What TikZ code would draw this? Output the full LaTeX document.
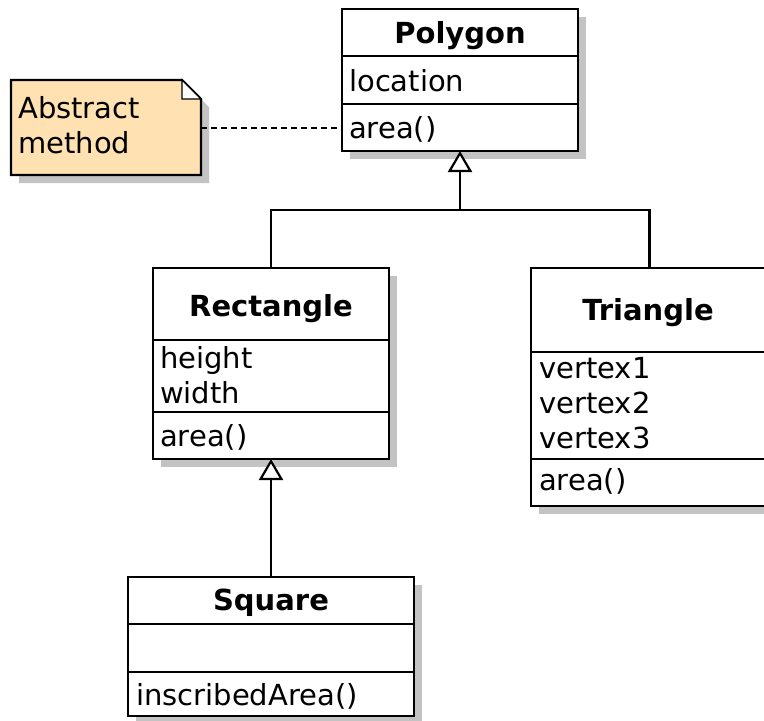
\documentclass[tikz,border=0pt]{standalone}
\usepackage{fontspec}
\setmainfont{DejaVu Sans}
\usetikzlibrary{arrows.meta,shadows}
\definecolor{notefill}{RGB}{255,225,178}
\definecolor{shadowgray}{RGB}{195,195,195}
\begin{document}
\begin{tikzpicture}[x=1pt,y=-1pt,
  box/.style={draw, line width=2.2pt, fill=white, inner sep=0pt, outer sep=0pt, anchor=north west,
    drop shadow={shadow xshift=8pt, shadow yshift=-8pt, fill=shadowgray, opacity=1}},
  txt/.style={inner sep=0pt, anchor=base west, font=\fontsize{29}{35}\selectfont},
  ttl/.style={inner sep=0pt, anchor=base, font=\fontsize{29}{35}\selectfont\bfseries},
  sep/.style={line width=2.2pt},
  gen/.style={line width=2.2pt},
  genarrow/.style={line width=2.2pt, -{Triangle[length=21pt, width=24pt, fill=white]}},
  notedash/.style={line width=2pt, dash pattern=on 6pt off 4pt},
]
\useasboundingbox (0,0) rectangle (764,721);

% ---- Note ----
\node[inner sep=0pt, outer sep=0pt, minimum width=190pt, minimum height=95pt, anchor=north west] (note) at (11,80) {};
\fill[shadowgray] (19,88) -- (190,88) -- (209,107) -- (209,183) -- (19,183) -- cycle;
\draw[line width=2.2pt, fill=notefill] (11,80) -- (182,80) -- (201,99) -- (201,175) -- (11,175) -- cycle;
\draw[line width=1.2pt, fill=white] (182,80) -- (182,99) -- (201,99) -- cycle;
\node[txt] at (18,118) {Abstract};
\node[txt] at (18,153) {method};

% ---- Polygon ----
\node[box, minimum width=236pt, minimum height=142pt] (polygon) at (342,9) {};
\draw[sep] (342,56) -- (578,56);
\draw[sep] (342,104) -- (578,104);
\node[ttl] at (460,43) {Polygon};
\node[txt] at (349,91) {location};
\node[txt] at (349,138) {area()};

% ---- Rectangle ----
\node[box, minimum width=236pt, minimum height=191pt] (rectangle) at (153,268) {};
\draw[sep] (153,340) -- (389,340);
\draw[sep] (153,412) -- (389,412);
\node[ttl] at (271,316) {Rectangle};
\node[txt] at (160,368) {height};
\node[txt] at (160,403) {width};
\node[txt] at (160,446) {area()};

% ---- Triangle ----
\node[box, minimum width=237pt, minimum height=238pt] (triangle) at (531,268) {};
\draw[sep] (531,352) -- (768,352);
\draw[sep] (531,459) -- (768,459);
\node[ttl] at (648,320) {Triangle};
\node[txt] at (539,378) {vertex1};
\node[txt] at (539,413) {vertex2};
\node[txt] at (539,448) {vertex3};
\node[txt] at (539,490) {area()};

% ---- Square ----
\node[box, minimum width=286pt, minimum height=139pt] (square) at (128,577) {};
\draw[sep] (128,624) -- (414,624);
\draw[sep] (128,672) -- (414,672);
\node[ttl] at (271,610) {Square};
\node[txt] at (136,705) {inscribedArea()};

% ---- Connectors ----
\coordinate (j) at (460,210);
\draw[notedash] (note.east) -- (note.east -| polygon.west);
\draw[gen] (triangle.north) |- (j);
\draw[genarrow] (rectangle.north) |- (j) -- (polygon.south);
\draw[genarrow] (square.north) -- (rectangle.south);
\end{tikzpicture}
\end{document}
